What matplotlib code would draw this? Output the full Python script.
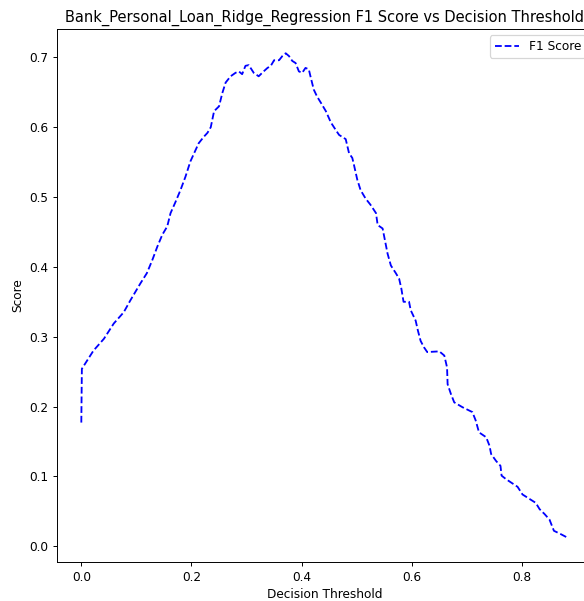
import matplotlib
matplotlib.use("Agg")
import matplotlib.pyplot as plt

# Decision thresholds and the F1 score measured at each one
thresholds = [
    0.000, 0.001, 0.022, 0.041, 0.059, 0.077, 0.089, 0.107, 0.119, 0.129,
    0.138, 0.147, 0.156, 0.162, 0.171, 0.180, 0.189, 0.198, 0.213, 0.222,
    0.229, 0.235, 0.241, 0.250, 0.256, 0.262, 0.271, 0.280, 0.286, 0.292,
    0.298, 0.304, 0.313, 0.322, 0.331, 0.338, 0.344, 0.350, 0.359, 0.365,
    0.371, 0.377, 0.383, 0.389, 0.395, 0.401, 0.407, 0.413, 0.416, 0.422,
    0.428, 0.435, 0.444, 0.453, 0.462, 0.468, 0.480, 0.486, 0.492, 0.495,
    0.501, 0.507, 0.516, 0.525, 0.535, 0.538, 0.547, 0.550, 0.556, 0.562,
    0.571, 0.577, 0.581, 0.585, 0.595, 0.598, 0.607, 0.611, 0.616, 0.622,
    0.628, 0.650, 0.659, 0.664, 0.665, 0.671, 0.677, 0.692, 0.710, 0.716,
    0.722, 0.735, 0.741, 0.744, 0.753, 0.761, 0.763, 0.771, 0.792, 0.801,
    0.813, 0.825, 0.832, 0.841, 0.850, 0.858, 0.871, 0.883,
]
f1_scores = [
    0.177, 0.254, 0.280, 0.297, 0.319, 0.335, 0.352, 0.376, 0.391, 0.410,
    0.429, 0.446, 0.458, 0.477, 0.493, 0.510, 0.529, 0.551, 0.577, 0.586,
    0.592, 0.600, 0.623, 0.630, 0.649, 0.664, 0.673, 0.678, 0.680, 0.676,
    0.688, 0.689, 0.678, 0.673, 0.680, 0.685, 0.688, 0.696, 0.696, 0.702,
    0.706, 0.702, 0.695, 0.692, 0.680, 0.678, 0.685, 0.683, 0.673, 0.654,
    0.644, 0.635, 0.623, 0.607, 0.596, 0.589, 0.583, 0.563, 0.556, 0.546,
    0.525, 0.510, 0.498, 0.489, 0.477, 0.460, 0.455, 0.443, 0.419, 0.402,
    0.391, 0.383, 0.369, 0.350, 0.350, 0.338, 0.323, 0.309, 0.294, 0.285,
    0.278, 0.279, 0.273, 0.256, 0.232, 0.218, 0.206, 0.199, 0.192, 0.180,
    0.163, 0.156, 0.144, 0.132, 0.122, 0.115, 0.101, 0.096, 0.085, 0.074,
    0.068, 0.062, 0.053, 0.046, 0.038, 0.022, 0.017, 0.012,
]

DPI = 87.5
fig = plt.figure(figsize=(584 / DPI, 601 / DPI), dpi=DPI)
# The axes run slightly past the right edge of the canvas
ax = fig.add_axes([0.0976, 0.0649, 0.9161, 0.8868])

ax.plot(thresholds, f1_scores, linestyle="--", color="blue", label="F1 Score")
ax.set_title("Bank_Personal_Loan_Ridge_Regression F1 Score vs Decision Threshold")
ax.set_xlabel("Decision Threshold")
ax.set_ylabel("Score")
ax.legend(loc="upper right")

fig.savefig("out.png", dpi=DPI)
